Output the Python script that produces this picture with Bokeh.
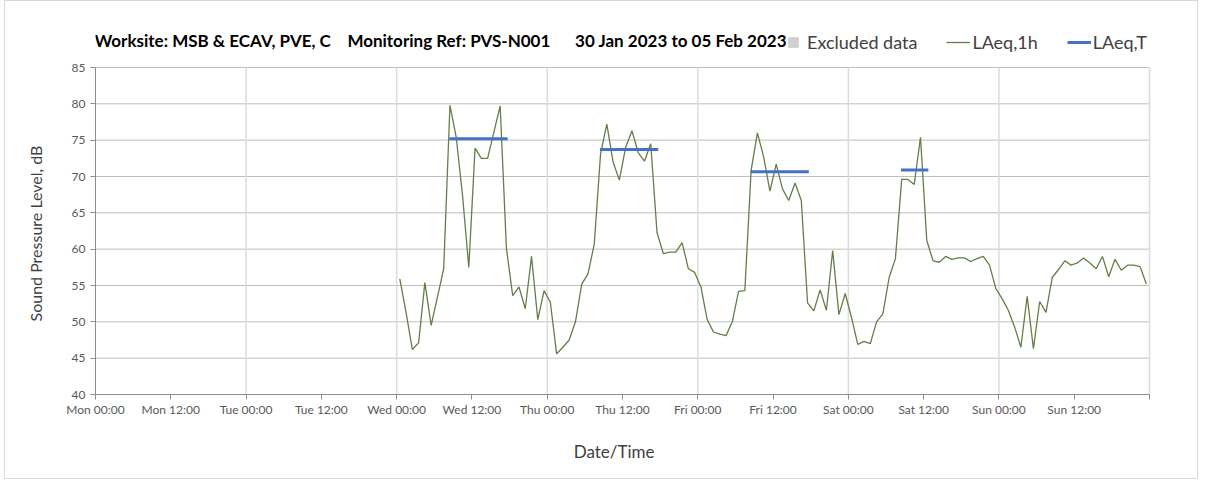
from bokeh.plotting import figure
from bokeh.models import FixedTicker, Legend, LegendItem, Range1d, Label
from bokeh.embed import file_html
from bokeh.resources import INLINE

# ---------------- data ----------------
# time axis in hours since Mon 30 Jan 2023 00:00
days = ["Mon", "Tue", "Wed", "Thu", "Fri", "Sat", "Sun"]
first_hour = 48.5          # Wed 00:30, first hourly value
laeq_1h = [
    # Wed
    55.9, 51.3, 46.2, 47.1, 55.4, 49.5, 53.4, 57.3, 79.8, 75.4, 67.4, 57.5,
    73.9, 72.5, 72.5, 76.1, 79.7, 60.1, 53.6, 54.8, 51.8, 59.0, 50.3, 54.3,
    # Thu
    52.7, 45.6, 46.5, 47.5, 50.0, 55.2, 56.6, 60.7, 73.1, 77.2, 72.0, 69.5,
    74.0, 76.3, 73.3, 72.1, 74.5, 62.3, 59.4, 59.6, 59.6, 60.9, 57.3, 56.8,
    # Fri
    54.8, 50.3, 48.6, 48.3, 48.1, 50.0, 54.2, 54.3, 70.8, 76.0, 72.7, 68.0,
    71.7, 68.3, 66.7, 69.1, 66.7, 52.6, 51.5, 54.4, 51.6, 59.8, 51.0, 53.9,
    # Sat
    50.6, 46.9, 47.3, 47.0, 50.0, 51.1, 56.1, 58.7, 69.6, 69.6, 68.9, 75.4,
    61.2, 58.4, 58.2, 59.0, 58.6, 58.8, 58.8, 58.3, 58.7, 59.0, 57.8, 54.6,
    # Sun
    53.2, 51.6, 49.3, 46.5, 53.5, 46.3, 52.8, 51.3, 56.1, 57.2, 58.4, 57.8,
    58.1, 58.8, 58.1, 57.3, 59.0, 56.2, 58.6, 57.1, 57.8, 57.8, 57.6, 55.2,
]
hours_1h = [first_hour + i for i in range(len(laeq_1h))]

# LAeq,T daytime periods (hours since Mon 00:00)
laeq_t_start = [56.4, 80.4, 104.4, 128.4]
laeq_t_end = [65.7, 89.7, 113.7, 132.75]
laeq_t = [75.2, 73.7, 70.65, 70.9]

# no excluded data in this period
excluded_hours = [float("nan")]
excluded_values = [float("nan")]

x_min, x_max = 0, 168
y_min, y_max = 40, 85
tick_hours = [h for h in range(x_min, x_max + 1, 12)]
tick_labels = [f"{days[(h // 24) % 7]} {h % 24:02d}:00" if h < x_max else "" for h in tick_hours]
grid_hours = [h for h in range(x_min + 24, x_max + 1, 24)]
y_ticks = list(range(y_min, y_max + 1, 5))

title_parts = ["Worksite: MSB & ECAV, PVE, C", "Monitoring Ref: PVS-N001",
               "30 Jan 2023 to 05 Feb 2023"]
x_label = "Date/Time"
y_label = "Sound Pressure Level, dB"

# ---------------- layout (pixels) ----------------
FONT = "Lato"
NB = "\u00a0"
EM, EN = "\u2003", "\u2002"
FRAME_W, PLOT_H = 1054, 327          # width of the 0..168 h span, height of 40..85 dB
EXTRA_R, EXTRA_T = 30, 47            # frame extension for title/legend row
px_h = FRAME_W / (x_max - x_min)
px_db = PLOT_H / (y_max - y_min)

p = figure(width=90 + FRAME_W + EXTRA_R + 20, height=19 + PLOT_H + EXTRA_T + 86,
           output_backend="svg", toolbar_location=None,
           x_range=Range1d(x_min, x_max + EXTRA_R / px_h),
           y_range=Range1d(y_min, y_max + EXTRA_T / px_db),
           min_border_left=90, min_border_right=20, min_border_top=19, min_border_bottom=86)
p.styles = {"border": "1px solid #D9D9D9", "margin-left": "4px"}
p.outline_line_color = None
p.background_fill_color = "white"
p.border_fill_color = "white"
p.xgrid.visible = False
p.ygrid.visible = False

# axes
for ax in (p.xaxis[0], p.yaxis[0]):
    ax.axis_line_color = "#8C8C8C"
    ax.major_tick_line_color = "#8C8C8C"
    ax.major_tick_in = 0
    ax.major_tick_out = 5
    ax.minor_tick_line_color = None
    ax.major_label_text_font = FONT
    ax.major_label_text_font_size = "12px"
    ax.major_label_text_color = "#595959"
    ax.axis_label_text_font = FONT
    ax.axis_label_text_font_style = "normal"
    ax.axis_label_text_color = "#404040"

p.xaxis.bounds = (x_min, x_max)
p.xaxis.ticker = FixedTicker(ticks=tick_hours)
p.xaxis.major_label_overrides = {h: lab for h, lab in zip(tick_hours, tick_labels)}
p.xaxis.major_label_standoff = 2
# trailing em-spaces keep the label centred on the 0..168 h span, not the widened frame
p.xaxis.axis_label = x_label + EM * 3 + EN
p.xaxis.axis_label_text_font_size = "17px"
p.xaxis.axis_label_standoff = 21
p.yaxis.bounds = (y_min, y_max)
p.yaxis.ticker = FixedTicker(ticks=y_ticks)
p.yaxis.axis_label = y_label + EM * 3 + EN * 2
p.yaxis.axis_label_text_font_size = "16px"
p.yaxis.axis_label_standoff = 24

# gridlines limited to the data area
p.segment(x0=[x_min] * len(y_ticks[1:]), y0=y_ticks[1:], x1=[x_max] * len(y_ticks[1:]),
          y1=y_ticks[1:], line_color="#BFBFBF", line_width=1)
p.segment(x0=grid_hours, y0=[y_min] * len(grid_hours), x1=grid_hours,
          y1=[y_max] * len(grid_hours), line_color="#DCDCDC", line_width=1.5)

# glyphs
excl = p.scatter(x=excluded_hours, y=excluded_values, marker="square", size=10,
                 fill_color="#CFCFCF", line_color="#CFCFCF")
line = p.line(hours_1h, laeq_1h, line_color="#637F46", line_width=1.3)
seg = p.segment(x0=laeq_t_start, y0=laeq_t, x1=laeq_t_end, y1=laeq_t,
                line_color="#4472C4", line_width=3)

# title
title = Label(x=-1, y=PLOT_H + EXTRA_T - 20, x_units="screen", y_units="screen",
              text=(NB * 4).join(title_parts[:2]) + NB * 6 + title_parts[2],
              text_font=FONT, text_font_style="bold", text_font_size="17px",
              text_color="#000000", text_baseline="middle", text_align="left")
p.add_layout(title)

legend = Legend(items=[LegendItem(label="Excluded data", renderers=[excl]),
                       LegendItem(label="LAeq,1h", renderers=[line]),
                       LegendItem(label="LAeq,T", renderers=[seg])],
                location=(686, PLOT_H + EXTRA_T - 34), orientation="horizontal",
                border_line_color=None, background_fill_alpha=0,
                label_text_font=FONT, label_text_font_size="18px",
                label_text_color="#404040",
                glyph_width=24, glyph_height=24, label_standoff=2, spacing=29,
                padding=2, margin=0)
p.add_layout(legend, "center")

open("out.html", "w").write(file_html(p, INLINE))
